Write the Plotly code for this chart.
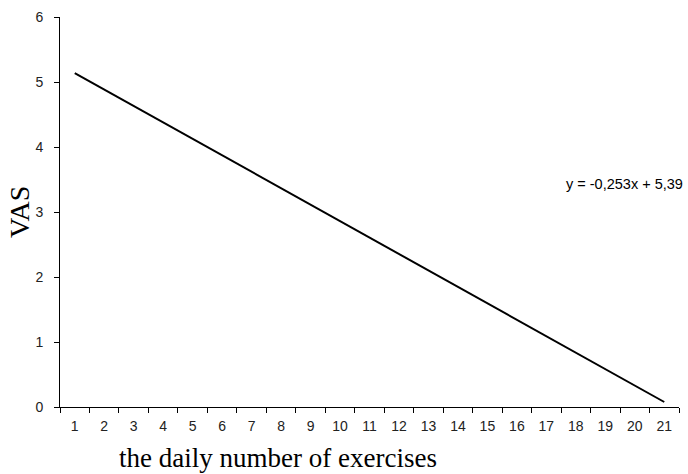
import plotly.graph_objects as go

categories = [str(i) for i in range(1, 22)]
line_x = ["1", "21"]
line_y = [5.137, 0.077]
y_ticks = [0, 1, 2, 3, 4, 5, 6]
equation_text = "y = -0,253x + 5,39"

fig = go.Figure()
fig.add_trace(go.Scatter(x=line_x, y=line_y, mode="lines",
                         line=dict(color="black", width=2), showlegend=False))

fig.update_layout(
    width=688, height=474,
    margin=dict(l=60, r=9, t=15, b=67),
    paper_bgcolor="white", plot_bgcolor="white",
    font=dict(family="Liberation Sans, Arial", size=14, color="#222"),
    xaxis=dict(type="category", categoryorder="array", categoryarray=categories,
               tickson="boundaries", ticks="outside", ticklen=5, tickcolor="black",
               showline=True, linecolor="black", linewidth=1, showgrid=False,
               zeroline=False, tickfont=dict(size=14), range=[-0.5, 20.5],
               ticklabelstandoff=6),
    yaxis=dict(range=[0, 6], tickvals=y_ticks, ticks="outside", ticklen=5,
               tickcolor="black", showline=True, linecolor="black", linewidth=1,
               showgrid=False, zeroline=False, tickfont=dict(size=14),
               ticklabelstandoff=8),
    annotations=[
        dict(text=equation_text, xref="paper", yref="y", x=1.009, y=3.43,
             xanchor="right", yanchor="middle", showarrow=False,
             font=dict(family="Liberation Sans, Arial", size=14.5, color="black")),
        dict(text="the daily number of exercises", xref="paper", yref="paper",
             x=(278 - 60) / 619, y=-(458 - 407) / 392, xanchor="center", yanchor="middle",
             showarrow=False,
             font=dict(family="Liberation Serif, Times New Roman", size=27, color="black")),
        dict(text="VAS", xref="paper", yref="paper", x=-(60 - 19) / 619, y=(407 - 211) / 392,
             xanchor="center", yanchor="middle", showarrow=False, textangle=-90,
             font=dict(family="Liberation Serif, Times New Roman", size=28, color="black")),
    ],
)

fig.write_html("out.html", config={"displayModeBar": False},
               post_script="document.body.style.margin='0';")
